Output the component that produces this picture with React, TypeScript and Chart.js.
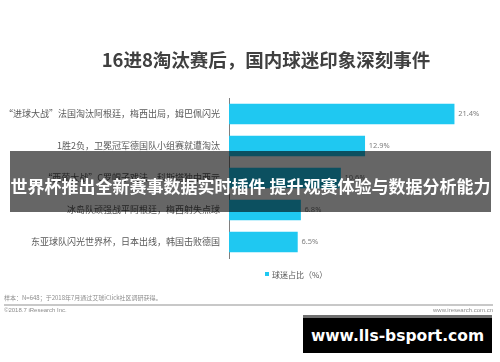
import React, { useEffect, useRef } from "react";
import { Chart, registerables } from "chart.js";

Chart.register(...registerables);

const titleText = "16进8淘汰赛后，国内球迷印象深刻事件";
const categories = [
  "“进球大战”法国淘汰阿根廷，梅西出局，姆巴佩闪光",
  "1胜2负，卫冕冠军德国队小组赛就遭淘汰",
  "“西葡大战”C罗帽子戏法，科斯塔独中两元",
  "冰岛队顽强战平阿根廷，梅西射失点球",
  "东亚球队闪光世界杯，日本出线，韩国击败德国",
];
const values = [21.4, 12.9, 10.6, 6.8, 6.5];
const seriesLabel = "球迷占比（%）";
const sampleNote = "样本：N=648；于2018年7月通过艾瑞iClick社区调研获得。";
const copyright = "©2018.7 iResearch Inc.";
const siteText = "www.iresearch.com.cn";
const bannerText = "世界杯推出全新赛事数据实时插件 提升观赛体验与数据分析能力";
const watermarkText = "www.lls-bsport.com";

const BAR_COLOR = "#1fc8f1";
const CJK = '"Noto Sans CJK SC", "Noto Sans", sans-serif';

const valueLabelPlugin = {
  id: "valueLabels",
  afterDatasetsDraw(chart: any) {
    const ctx = chart.ctx;
    const meta = chart.getDatasetMeta(0);
    ctx.save();
    ctx.font = '7.5px "Noto Sans", sans-serif';
    ctx.fillStyle = "#7f7f7f";
    ctx.textBaseline = "middle";
    ctx.textAlign = "left";
    meta.data.forEach((bar: any, i: number) => {
      ctx.fillText(values[i].toFixed(1) + "%", bar.x + 4, bar.y);
    });
    ctx.restore();
  },
};

export default function App() {
  const canvasRef = useRef<HTMLCanvasElement | null>(null);

  useEffect(() => {
    if (!canvasRef.current) return;
    const chart = new Chart(canvasRef.current, {
      type: "bar",
      data: {
        labels: categories,
        datasets: [
          {
            label: seriesLabel,
            data: values,
            backgroundColor: BAR_COLOR,
            barThickness: 20,
          },
        ],
      },
      options: {
        indexAxis: "y",
        animation: false,
        responsive: false,
        devicePixelRatio: 1,
        layout: { padding: { left: 0, right: 8, top: 98, bottom: 104 } },
        plugins: {
          legend: { display: false },
          tooltip: { enabled: false },
          title: { display: false },
        },
        scales: {
          x: { display: false, min: 0, max: 25 },
          y: {
            grid: { display: false, drawTicks: false },
            border: { display: true, color: "#7f7f7f", width: 1 },
            ticks: {
              color: "#595959",
              font: { family: CJK, size: 9 },
              padding: 9,
            },
            afterFit: (scale: any) => {
              scale.width = 229;
            },
          },
        },
      } as any,
      plugins: [valueLabelPlugin],
    });
    return () => chart.destroy();
  }, []);

  return (
    <div
      style={{
        position: "absolute",
        left: 0,
        top: 0,
        width: 500,
        height: 362,
        background: "#ffffff",
        overflow: "hidden",
        fontFamily: CJK,
      }}
    >
      <canvas
        ref={canvasRef}
        width={500}
        height={362}
        style={{ position: "absolute", left: 0, top: 0, width: 500, height: 362 }}
      />
      <div
        style={{
          position: "absolute",
          left: 0,
          top: 48,
          width: 532,
          textAlign: "center",
          fontSize: 18.5,
          fontWeight: 700,
          lineHeight: "22px",
          color: "#404040",
          whiteSpace: "nowrap",
        }}
      >
        {titleText}
      </div>
      <div
        style={{
          position: "absolute",
          left: 265,
          top: 268,
          height: 12,
          display: "flex",
          alignItems: "center",
          fontSize: 8,
          color: "#595959",
          whiteSpace: "nowrap",
        }}
      >
        <span
          style={{
            display: "inline-block",
            width: 4,
            height: 4,
            background: BAR_COLOR,
            marginRight: 3,
          }}
        />
        {seriesLabel}
      </div>
      <div
        style={{
          position: "absolute",
          left: 4,
          top: 294,
          fontSize: 6,
          lineHeight: "8px",
          color: "#8c8c8c",
          whiteSpace: "nowrap",
        }}
      >
        {sampleNote}
      </div>
      <div
        style={{
          position: "absolute",
          left: 4,
          top: 304,
          width: 489,
          height: 1.5,
          background: "#c8c8c8",
        }}
      />
      <div
        style={{
          position: "absolute",
          left: 4,
          top: 306,
          fontFamily: '"Liberation Sans", Arial, sans-serif',
          fontSize: 6,
          lineHeight: "8px",
          color: "#8c8c8c",
          whiteSpace: "nowrap",
        }}
      >
        {copyright}
      </div>
      <div
        style={{
          position: "absolute",
          right: 7,
          top: 306,
          fontFamily: '"Liberation Sans", Arial, sans-serif',
          fontSize: 6,
          lineHeight: "8px",
          color: "#8c8c8c",
          whiteSpace: "nowrap",
          textAlign: "right",
        }}
      >
        {siteText}
      </div>
      <div
        style={{
          position: "absolute",
          left: 10,
          top: 151,
          width: 481,
          height: 61,
          background: "rgba(0,0,0,0.6)",
          color: "#ffffff",
          fontSize: 17,
          fontWeight: 700,
          display: "flex",
          alignItems: "center",
          justifyContent: "center",
          paddingTop: 8,
          boxSizing: "border-box",
          whiteSpace: "nowrap",
        }}
      >
        {bannerText}
      </div>
      <div
        style={{
          position: "absolute",
          left: 303,
          top: 315,
          width: 189,
          height: 38,
          background: "#000000",
          borderTop: "3px solid #707070",
          boxSizing: "border-box",
          color: "#ffffff",
          fontFamily: '"DejaVu Sans", sans-serif',
          fontSize: 15.5,
          fontWeight: 700,
          display: "flex",
          alignItems: "center",
          justifyContent: "center",
          whiteSpace: "nowrap",
        }}
      >
        {watermarkText}
      </div>
    </div>
  );
}
